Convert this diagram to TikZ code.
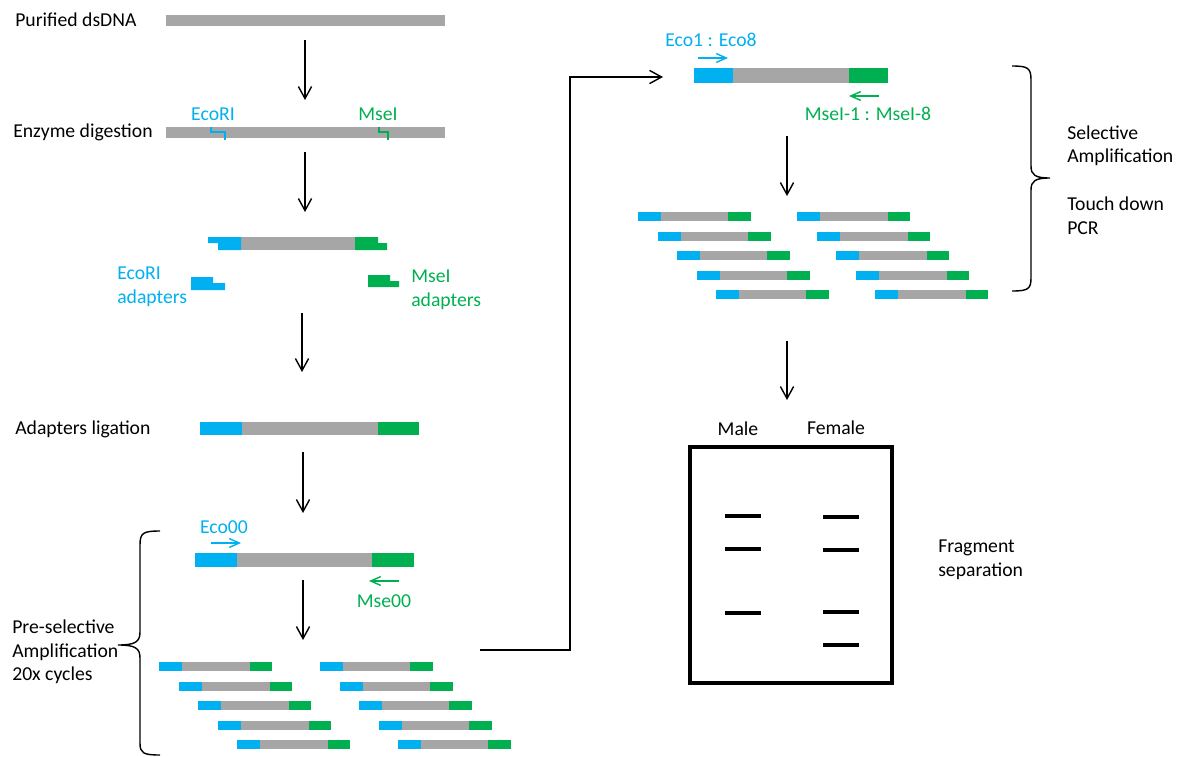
\documentclass[tikz,border=0pt]{standalone}
\usepackage{fontspec}
\setmainfont{Carlito}
\usetikzlibrary{positioning,arrows.meta}
\definecolor{ecocolor}{RGB}{0,176,240}
\definecolor{msecolor}{RGB}{0,176,80}
\definecolor{dnacolor}{RGB}{166,166,166}
\newcommand{\pu}{0.025cm}

\begin{document}
\begin{tikzpicture}[%
    x=\pu, y=-\pu,                          % one unit per pixel, top-down
    >={Straight Barb[length=3mm,width=3.3mm]},
    font=\fontsize{14}{16.7}\selectfont,    % Calibri-like text
    ]
\tikzset{
  dna/.style={rectangle, fill=dnacolor, inner sep=0pt, outer sep=0pt, minimum height=13*\pu},
  eco/.style={dna, fill=ecocolor},
  mse/.style={dna, fill=msecolor},
  short/.style={minimum height=9*\pu, minimum width=23*\pu},
  steptext/.style={inner sep=0pt, anchor=west, align=left},
  ecotext/.style={inner sep=0pt, text=ecocolor, align=left},
  msetext/.style={inner sep=0pt, text=msecolor, align=left},
  flow/.style={->, line width=1pt},
  primer/.style={-{Straight Barb[length=2.5mm,width=2.2mm]}, line width=1pt},
  cut/.style={line width=1.2pt},
  band/.style={line width=2.2pt},
  bracket/.style={line width=1pt},
}
\useasboundingbox (0,0) rectangle (1182,756);

% left column
\node [steptext] (t0) at (15,20) {Purified dsDNA};
\node [dna, minimum height=11*\pu, minimum width=279*\pu, anchor=west] (dna0) at (166,20.5) {};

\node [steptext] (t1) at (13,132) {Enzyme digestion};
\node [dna, minimum height=11*\pu, minimum width=279*\pu, anchor=west] (dna1) at (166,132.5) {};
\node [ecotext] (ecori) at (213,114) {EcoRI};
\node [msetext] (msei) at (378,114) {MseI};
\draw [cut, ecocolor] (211,127) |- (225,132) -- (225,140);
\draw [cut, msecolor] (379,127) |- (388,132) -- (388,140);

\node [dna, minimum width=114*\pu, anchor=west] (cutfrag) at (241,243.5) {};
\fill [ecocolor] (208,237) -- (241,237) -- (241,250) -- (218,250) -- (218,243) -- (208,243) -- cycle;
\fill [msecolor] (355,237) -- (378,237) -- (378,243) -- (387,243) -- (387,250) -- (355,250) -- cycle;

\fill [ecocolor] (191,277) -- (213,277) -- (213,283) -- (225,283) -- (225,290) -- (191,290) -- cycle;
\fill [msecolor] (368,275) -- (390,275) -- (390,281) -- (399,281) -- (399,287) -- (368,287) -- cycle;
\node [ecotext, anchor=west] (ecoad) at (117,287) {EcoRI\\adapters};
\node [msetext, anchor=west] (msead) at (411,290) {MseI\\adapters};

\node [steptext] (t2) at (15,429) {Adapters ligation};
\node [eco, minimum width=42*\pu, anchor=west] (lig1) at (200,428.5) {};
\node [dna, minimum width=136*\pu, right=0pt of lig1] (lig2) {};
\node [mse, minimum width=41*\pu, right=0pt of lig2] (lig3) {};

\node [eco, minimum height=14*\pu, minimum width=42*\pu, anchor=west] (pre1) at (195,560) {};
\node [dna, minimum height=14*\pu, minimum width=135*\pu, right=0pt of pre1] (pre2) {};
\node [mse, minimum height=14*\pu, minimum width=42*\pu, right=0pt of pre2] (pre3) {};
\node [ecotext] (eco00) at (224,527) {Eco00};
\node [msetext] (mse00) at (384,601) {Mse00};
\coordinate (e0a) at (211,543);
\coordinate (e0b) at (241,543);
\coordinate (m0a) at (399,581);
\coordinate (m0b) at (369,581);

\foreach \i in {0,...,4} {
  \node [eco, short, anchor=west] (pl\i) at (159+19.5*\i,666.5+19.5*\i) {};
  \node [dna, short, minimum width=68*\pu, right=0pt of pl\i] (pm\i) {};
  \node [mse, short, minimum width=22*\pu, right=0pt of pm\i] (pr\i) {};
  \node [eco, short, anchor=west] (ql\i) at (320+19.5*\i,666.5+19.5*\i) {};
  \node [dna, short, minimum width=67*\pu, right=0pt of ql\i] (qm\i) {};
  \node [mse, short, minimum width=23*\pu, right=0pt of qm\i] (qr\i) {};
}

\node [steptext] (t3) at (12,652) {Pre-selective\\Amplification\\20x cycles};
\draw [bracket] (160,531) .. controls (143,531) and (140,533) .. (140,545) -- (140,632)
  .. controls (140,642) and (135,645) .. (118,645)
  .. controls (135,645) and (140,648) .. (140,658) -- (140,743)
  .. controls (140,753) and (143,755) .. (160,755);

% right column
\node [eco, minimum height=15*\pu, minimum width=39*\pu, anchor=west] (sel1) at (694,75.5) {};
\node [dna, minimum height=15*\pu, minimum width=116*\pu, right=0pt of sel1] (sel2) {};
\node [mse, minimum height=15*\pu, minimum width=39*\pu, right=0pt of sel2] (sel3) {};
\node [ecotext] (eco18) at (711,40) {Eco1 : Eco8};
\node [msetext] (mse18) at (868,114) {MseI-1 : MseI-8};
\coordinate (e1a) at (698,58);
\coordinate (e1b) at (728,58);
\coordinate (m1a) at (879,96);
\coordinate (m1b) at (849,96);

\foreach \i in {0,...,4} {
  \node [eco, short, anchor=west] (sl\i) at (638+19.5*\i,216.5+19.5*\i) {};
  \node [dna, short, minimum width=67*\pu, right=0pt of sl\i] (sm\i) {};
  \node [mse, short, minimum width=23*\pu, right=0pt of sm\i] (sr\i) {};
  \node [eco, short, anchor=west] (ul\i) at (797+19.5*\i,216.5+19.5*\i) {};
  \node [dna, short, minimum width=68*\pu, right=0pt of ul\i] (um\i) {};
  \node [mse, short, minimum width=22*\pu, right=0pt of um\i] (ur\i) {};
}

\draw [bracket] (1012,66) .. controls (1028,66) and (1031,68) .. (1031,80) -- (1031,166)
  .. controls (1031,175) and (1035,178) .. (1050,178)
  .. controls (1035,178) and (1031,181) .. (1031,190) -- (1031,278)
  .. controls (1031,289) and (1028,291) .. (1012,291);
\node [steptext] (t4) at (1067,145.5) {Selective\\Amplification};
\node [steptext] (t5) at (1067,215.5) {Touch down\\PCR};

\node (male) [inner sep=0pt] at (738,429) {Male};
\node (female) [inner sep=0pt] at (836,428) {Female};
\node [draw, line width=2.2pt, minimum width=202*\pu, minimum height=236*\pu, inner sep=0pt] (gel) at (791,565) {};
\draw [band] (725,516) -- (761,516);
\draw [band] (725,549) -- (761,549);
\draw [band] (725,613) -- (761,613);
\draw [band] (823,517) -- (859,517);
\draw [band] (823,550) -- (859,550);
\draw [band] (823,612) -- (859,612);
\draw [band] (823,645) -- (859,645);
\node [steptext] (t6) at (938,560) {Fragment\\separation};

%connect
\coordinate (a0) at (305,40);   \coordinate (b0) at (305,100);
\coordinate (a1) at (305,152);  \coordinate (b1) at (305,212);
\coordinate (a2) at (302,313);  \coordinate (b2) at (302,372);
\coordinate (a3) at (303,452);  \coordinate (b3) at (303,513);
\coordinate (a4) at (303,580);  \coordinate (b4) at (303,640);
\coordinate (a5) at (787,136);  \coordinate (b5) at (787,196);
\coordinate (a6) at (787,341);  \coordinate (b6) at (787,400);
\coordinate (jump) at (480,650);
\coordinate (land) at (663,77);
\draw [flow] (a0) -- (b0);
\draw [flow] (a1) -- (b1);
\draw [flow] (a2) -- (b2);
\draw [flow] (a3) -- (b3);
\draw [flow] (a4) -- (b4);
\draw [flow] (a5) -- (b5);
\draw [flow] (a6) -- (b6);
\draw [flow] (jump) -- (570,650) |- (land);
\draw [primer, ecocolor] (e0a) -- (e0b);
\draw [primer, msecolor] (m0a) -- (m0b);
\draw [primer, ecocolor] (e1a) -- (e1b);
\draw [primer, msecolor] (m1a) -- (m1b);

\end{tikzpicture}
\end{document}
